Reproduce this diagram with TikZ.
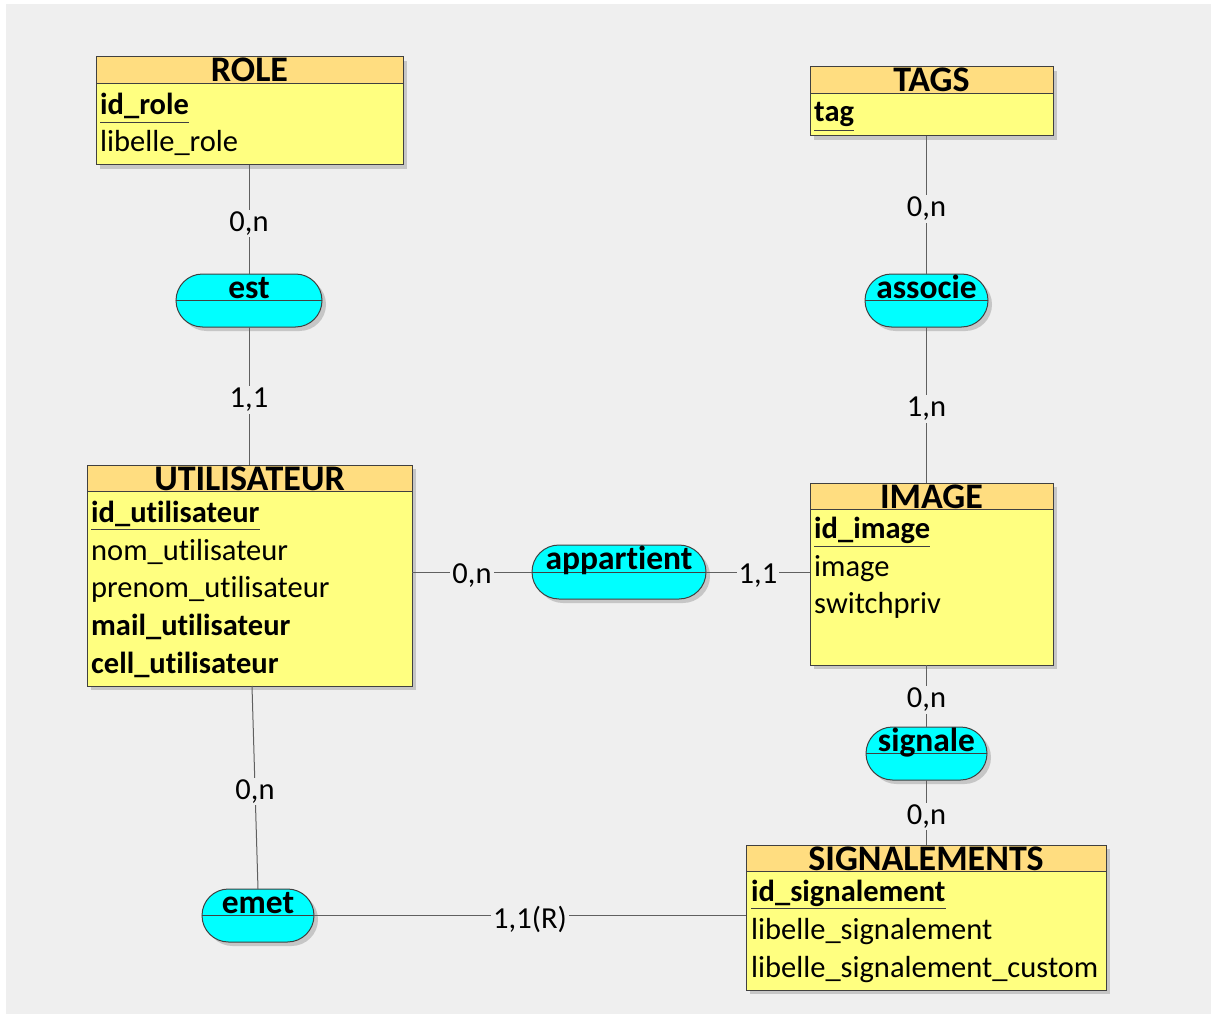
\documentclass[tikz,border=0pt]{standalone}
\usepackage{fontspec}
\setmainfont[Ligatures={NoCommon,NoRare,NoContextual}]{Carlito}
\usetikzlibrary{shapes.misc,calc}
\definecolor{bgc}{HTML}{EFEFEF}
\definecolor{hdr}{HTML}{FFDD80}
\definecolor{bodyc}{HTML}{FFFF80}
\definecolor{asc}{HTML}{00FFFF}
\definecolor{shd}{HTML}{C6C6C6}
\definecolor{brd}{HTML}{404040}
\definecolor{lnk}{HTML}{606060}
\newcommand\myentity[6]{%
  \fill[shd] (#2+4,#3+4) rectangle (#4+4,#5+4);
  \node[entbox, minimum width={#4pt-#2pt}, minimum height={#5pt-#3pt}] (#1) at (#2,#3) {};
  \fill[hdr] ([xshift=0.5pt,yshift=-0.5pt]#1.north west) rectangle ([xshift=-0.5pt,yshift=-26pt]#1.north east);
  \draw[brd, line width=0.9pt] ([yshift=-26pt]#1.north west) -- ([yshift=-26pt]#1.north east);
  \draw[brd, line width=1pt] (#1.north west) rectangle (#1.south east);
  \node[etitle] (#1-t) at ([yshift=-25pt]#1.north) {#6};
}
\newcommand\myassoc[6]{%
  \node[pillshadow, minimum width={#4pt-#2pt}, minimum height={#5pt-#3pt}] (#1-s) at ({(#2+#4)/2+4},{(#3+#5)/2+4}) {};
  \node[pill, minimum width={#4pt-#2pt}, minimum height={#5pt-#3pt}] (#1) at ({(#2+#4)/2},{(#3+#5)/2}) {};
  \draw[brd, line width=0.9pt] (#1.west) -- (#1.east);
  \node[atitle] (#1-t) at ([yshift=2.5pt]#1.center) {#6};
}
\begin{document}
\begin{tikzpicture}[x=1pt,y=-1pt,
  entbox/.style={rectangle, fill=bodyc, inner sep=0pt, outer sep=0pt, anchor=north west},
  pill/.style={rounded rectangle, draw=brd, line width=1pt, fill=asc, inner sep=0pt, outer sep=0pt, anchor=center},
  pillshadow/.style={rounded rectangle, fill=shd, inner sep=0pt, outer sep=0pt, anchor=center},
  etitle/.style={anchor=base, inner sep=0pt, font=\fontsize{36}{42}\selectfont\bfseries},
  atitle/.style={anchor=base, inner sep=0pt, font=\fontsize{33.5}{40}\selectfont\bfseries},
  attr/.style={anchor=base west, inner sep=0pt, font=\fontsize{30.5}{36}\selectfont},
  idattr/.style={attr, font=\fontsize{30.5}{36}\selectfont\bfseries},
  card/.style={fill=bgc, inner sep=2pt, yshift=-4pt, font=\fontsize{30.5}{36}\selectfont},
  link/.style={draw=lnk, line width=1pt},
  uline/.style={draw=brd, line width=0.8pt}
]
\useasboundingbox (0,0) rectangle (1211,1014);
\fill[white] (0,0) rectangle (1211,1014);
\fill[bgc] (6,4) rectangle (1211,1014);

% entities
\myentity{role}{96}{57}{403}{165}{ROLE}
\node[idattr] (role-a1) at (100,115) {id\_role};
\draw[uline] ([yshift=-7pt]role-a1.base west) -- ([yshift=-7pt]role-a1.base east);
\node[attr] (role-a2) at (100,152) {libelle\_role};

\myentity{tags}{810}{67}{1053}{136}{TAGS}
\node[idattr] (tags-a1) at (814,122) {tag};
\draw[uline] ([yshift=-8pt]tags-a1.base west) -- ([yshift=-8pt]tags-a1.base east);

\myentity{util}{87}{465}{412}{686}{UTILISATEUR}
\node[idattr] (util-a1) at (91,522) {id\_utilisateur};
\draw[uline] ([yshift=-7pt]util-a1.base west) -- ([yshift=-7pt]util-a1.base east);
\node[attr] (util-a2) at (91,560) {nom\_utilisateur};
\node[attr] (util-a3) at (91,597) {prenom\_utilisateur};
\node[idattr] (util-a4) at (91,635) {mail\_utilisateur};
\node[idattr] (util-a5) at (91,673) {cell\_utilisateur};

\myentity{image}{810}{483}{1053}{665}{IMAGE}
\node[idattr] (image-a1) at (814,538) {id\_image};
\draw[uline] ([yshift=-8pt]image-a1.base west) -- ([yshift=-8pt]image-a1.base east);
\node[attr] (image-a2) at (814,576) {image};
\node[attr] (image-a3) at (814,613) {switchpriv};

\myentity{sig}{746}{845}{1106}{990}{SIGNALEMENTS}
\node[idattr] (sig-a1) at (751,901) {id\_signalement};
\draw[uline] ([yshift=-7pt]sig-a1.base west) -- ([yshift=-7pt]sig-a1.base east);
\node[attr] (sig-a2) at (751,939) {libelle\_signalement};
\node[attr] (sig-a3) at (751,977) {libelle\_signalement\_custom};

% associations
\myassoc{est}{176}{274}{322}{327}{est}
\myassoc{associe}{865}{274}{988}{327}{associe}
\myassoc{app}{532}{545}{706}{599}{appartient}
\myassoc{signale}{866}{727}{987}{780}{signale}
\myassoc{emet}{202}{889}{314}{942}{emet}

% links
\draw[link] (est.north |- role.south) -- node[card] (c1) {0,n} (est.north);
\draw[link] (est.south) -- node[card] (c2) {1,1} (est.south |- util.north);
\draw[link] (associe.north |- tags.south) -- node[card] (c3) {0,n} (associe.north);
\draw[link] (associe.south) -- node[card] (c4) {1,n} (associe.south |- image.north);
\draw[link] (app.west -| util.east) -- node[card] (c5) {0,n} (app.west);
\draw[link] (app.east) -- node[card] (c6) {1,1} (app.east -| image.west);
\draw[link] (signale.north |- image.south) -- node[card] (c7) {0,n} (signale.north);
\draw[link] (signale.south) -- node[card] (c8) {0,n} (signale.south |- sig.north);
\draw[link] ([xshift=2.5pt]util.south) -- node[card] (c9) {0,n} (emet.north);
\draw[link] (emet.east) -- node[card] (c10) {1,1(R)} (emet.east -| sig.west);
\end{tikzpicture}
\end{document}
